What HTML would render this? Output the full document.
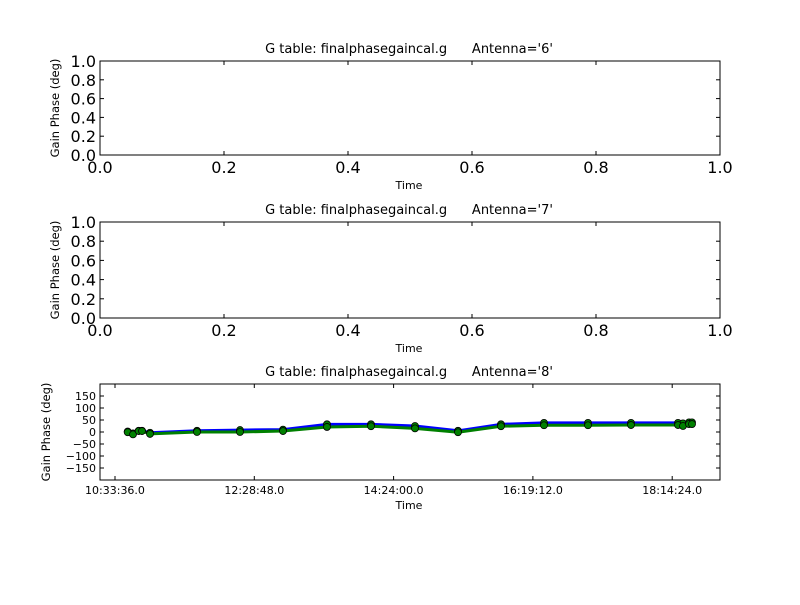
<!DOCTYPE html>
<html><head><meta charset="utf-8"><style>
body{margin:0;background:#fff}
svg{font-family:"DejaVu Sans","Liberation Sans",sans-serif}
text{white-space:pre}
</style></head><body>
<svg id="fig" width="800" height="600" xmlns="http://www.w3.org/2000/svg">
<rect width="800" height="600" fill="#fff"/>
</svg>
<script>
const emptyTicks = ["0.0","0.2","0.4","0.6","0.8","1.0"];
const timeLabels = ["10:33:36.0","12:28:48.0","14:24:00.0","16:19:12.0","18:14:24.0"];
const timeTicks = [0, 6912, 13824, 20736, 27648];
const yTicks = [150,100,50,0,-50,-100,-150];
const yTickLabels = ["150","100","50","0","\u221250","\u2212100","\u2212150"];
const times = [630,893,1176,1340,1737,4069,6202,8336,10519,12703,14886,17020,19153,21287,23470,25604,27936,28184,28482,28631];
const phaseBlue = [2,-6,5,5,-3,5,8,10,32,32,25,5,32,38,38,38,38,36,40,40];
const phaseGreen = [-1,-10,4,4,-8,0,0,4,21,24,15,-1,24,28,28,29,29,25,33,33];
const antennas = ["6","7","8"];

const svg = document.getElementById('fig');
const NS = "http://www.w3.org/2000/svg";
function el(tag, attrs, parent){const e=document.createElementNS(NS,tag);for(const k in attrs)e.setAttribute(k,attrs[k]);(parent||svg).appendChild(e);return e;}
function txt(x,y,s,size,anchor,parent){const t=el('text',{x:x,y:y,'font-size':size,'text-anchor':anchor||'middle',fill:'#000'},parent);t.textContent=s;return t;}

const L=100,R=720;
const tops=[61,222,384], bots=[155,318,480];

for(let p=0;p<3;p++){
  const g=el('g',{});
  
  
  const T=tops[p],B=bots[p];
  const title=txt(409,T-8,"G table: finalphasegaincal.g      Antenna='"+antennas[p]+"'",13,'middle',g);
  
  
  const xl=txt(409,B+(p<2?34:29),"Time",11,'middle',g);
  
  
  const yl=txt(0,0,"Gain Phase (deg)",11.5,'middle',g);
  yl.setAttribute('transform','translate('+(p<2?59:50)+','+((T+B)/2)+') rotate(-90)');
  
  
  if(p<2){
    for(let i=0;i<emptyTicks.length;i++){
      const f=i/5;
      const x=L+f*(R-L), y=B-f*(B-T);
      el('line',{x1:x,y1:B,x2:x,y2:B-4,stroke:'#000'},g);
      el('line',{x1:x,y1:T,x2:x,y2:T+4,stroke:'#000'},g);
      el('line',{x1:L,y1:y,x2:L+4,y2:y,stroke:'#000'},g);
      el('line',{x1:R,y1:y,x2:R-4,y2:y,stroke:'#000'},g);
      const tx=txt(x,B+18,emptyTicks[i],16,'middle',g);
      
      
      const ty=txt(L-4,y+6,emptyTicks[i],16,'end',g);
      
      
    }
  } else {
    const tmin=-744,tmax=30020,vmin=-200,vmax=200;
    const sx=t=>L+(t-tmin)/(tmax-tmin)*(R-L);
    const sy=v=>B-(v-vmin)/(vmax-vmin)*(B-T);
    for(let i=0;i<timeTicks.length;i++){
      const x=sx(timeTicks[i]);
      el('line',{x1:x,y1:B,x2:x,y2:B-4,stroke:'#000'},g);
      el('line',{x1:x,y1:T,x2:x,y2:T+4,stroke:'#000'},g);
      const tx=txt(x,B+14,timeLabels[i],11,'middle',g);
      
      
    }
    for(let i=0;i<yTicks.length;i++){
      const y=sy(yTicks[i]);
      el('line',{x1:L,y1:y,x2:L+4,y2:y,stroke:'#000'},g);
      el('line',{x1:R,y1:y,x2:R-4,y2:y,stroke:'#000'},g);
      const ty=txt(L-4,y+4,yTickLabels[i],11,'end',g);
      
      
    }
    const series=[[phaseBlue,'#0000ff','series-blue'],[phaseGreen,'#008000','series-green']];
    for(const [vals,col,name] of series){
      const pts=times.map((t,i)=>sx(t)+','+sy(vals[i])).join(' ');
      const pl=el('polyline',{points:pts,fill:'none',stroke:col,'stroke-width':3},g);
      
      
    }
    for(const [vals,col,name] of series){
      for(let i=0;i<times.length;i++){
        const c=el('circle',{cx:sx(times[i]),cy:sy(vals[i]),r:3.5,fill:'#008000',stroke:'#000','stroke-width':0.8},g);
        
        
      }
    }
  }
  const frame=el('rect',{x:L,y:T,width:R-L,height:B-T,fill:'none',stroke:'#000','stroke-width':1},g);
  
  
}
</script>
</body></html>
